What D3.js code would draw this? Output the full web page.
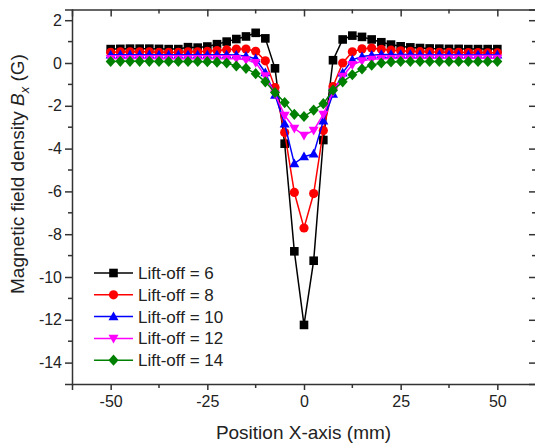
<meta charset="utf-8">
<style>
  body { margin: 0; background: #fff; }
  text { font-family: "Liberation Sans", Arial, sans-serif; fill: #222; }
  .axis path, .axis line { stroke: #333; stroke-width: 1.5px; }
</style>
<div id="chart"></div>
<script src="https://d3js.org/d3.v7.min.js"></script>
<script>
// positions along the scan (mm)
var positions = [-50, -47.5, -45, -42.5, -40, -37.5, -35, -32.5, -30, -27.5, -25, -22.5, -20, -17.5, -15, -12.5, -10, -7.5, -5, -2.5,
  0, 2.5, 5, 7.5, 10, 12.5, 15, 17.5, 20, 22.5, 25, 27.5, 30, 32.5, 35, 37.5, 40, 42.5, 45, 47.5, 50];

var lift6 = [0.65, 0.66, 0.67, 0.67, 0.67, 0.66, 0.65, 0.65, 0.74, 0.72, 0.77, 0.88, 1.0, 1.12, 1.24, 1.41, 1.15, -0.25, -3.77, -8.8,
  -12.24, -9.24, -3.6, 0.13, 1.1, 1.28, 1.22, 1.1, 0.97, 0.86, 0.78, 0.73, 0.7, 0.68, 0.67, 0.66, 0.66, 0.65, 0.65, 0.65, 0.65];
var lift8 = [0.5, 0.52, 0.52, 0.52, 0.52, 0.5, 0.5, 0.5, 0.52, 0.52, 0.55, 0.58, 0.62, 0.65, 0.65, 0.55, 0.1, -1.15, -3.25, -6.05,
  -7.71, -6.1, -3.15, -1.1, 0.0, 0.52, 0.66, 0.7, 0.64, 0.6, 0.57, 0.55, 0.53, 0.52, 0.5, 0.5, 0.5, 0.49, 0.49, 0.48, 0.48];
var lift10 = [0.38, 0.39, 0.39, 0.39, 0.39, 0.38, 0.38, 0.38, 0.38, 0.38, 0.38, 0.38, 0.38, 0.37, 0.32, 0.2, -0.45, -1.5, -2.85, -4.7,
  -4.38, -4.25, -2.7, -1.45, -0.46, 0.15, 0.3, 0.36, 0.4, 0.4, 0.4, 0.4, 0.39, 0.39, 0.39, 0.38, 0.38, 0.38, 0.38, 0.38, 0.38];
var lift12 = [0.2, 0.21, 0.21, 0.21, 0.21, 0.2, 0.2, 0.2, 0.2, 0.2, 0.2, 0.2, 0.2, 0.2, 0.15, 0.02, -0.6, -1.45, -2.45, -3.05,
  -3.38, -3.15, -2.4, -1.35, -0.62, -0.08, 0.1, 0.17, 0.2, 0.21, 0.22, 0.22, 0.22, 0.22, 0.22, 0.22, 0.22, 0.22, 0.22, 0.22, 0.22];
var lift14 = [0.07, 0.08, 0.08, 0.08, 0.08, 0.07, 0.07, 0.07, 0.07, 0.07, 0.06, 0.04, 0.0, -0.14, -0.25, -0.5, -0.88, -1.38, -1.85, -2.4,
  -2.5, -2.2, -1.9, -1.27, -0.88, -0.55, -0.28, -0.1, 0.0, 0.05, 0.07, 0.07, 0.07, 0.07, 0.07, 0.07, 0.07, 0.07, 0.07, 0.07, 0.07];

var labels = ["Lift-off = 6", "Lift-off = 8", "Lift-off = 10", "Lift-off = 12", "Lift-off = 14"];
var colors = ["#000000", "#ff0000", "#0000ff", "#ff00ff", "#008000"];
var symbols = ["square", "circle", "up", "down", "diamond"];
var xTicks = [-50, -25, 0, 25, 50];
var yTicks = [-14, -12, -10, -8, -6, -4, -2, 0, 2];

var series = [lift6, lift8, lift10, lift12, lift14].map(function(vals, i) {
  return {
    name: labels[i], color: colors[i], symbol: symbols[i],
    points: vals.map(function(v, j) { return {x: positions[j], y: v}; })
  };
});

var width = 535, height = 445;
var margin = {top: 9.5, right: -1, bottom: 61, left: 72};

var svg = d3.select("#chart").append("svg")
    .attr("width", width)
    .attr("height", height);

var x = d3.scaleLinear().domain([-60, 60]).range([margin.left, width - margin.right]);
var y = d3.scaleLinear().domain([-15, 2.5]).range([height - margin.bottom, margin.top]);

var x0 = x.range()[0], x1 = x.range()[1], y0 = y.range()[0], y1 = y.range()[1];
var plain = function(d) { return String(d); };  // hyphen minus like the original

// minor ticks
var xMinor = [-37.5, -12.5, 12.5, 37.5];
var yMinor = [-13, -11, -9, -7, -5, -3, -1, 1];

var frame = svg.append("g").attr("class", "axis");

// bottom axis (ticks outward)
frame.append("g")
    .attr("transform", "translate(0," + y0 + ")")
    .call(d3.axisBottom(x).tickValues(xTicks).tickSize(6).tickPadding(6).tickFormat(plain))
    .call(function(g) {
      g.selectAll("text").style("font-size", "16px").attr("fill", "#222");
      g.selectAll(".minor").data(xMinor).enter().append("line")
        .attr("x1", x).attr("x2", x).attr("y1", 0).attr("y2", 4)
        .attr("stroke", "#333").attr("stroke-width", 1.5);
    });

// left axis (ticks outward)
frame.append("g")
    .attr("transform", "translate(" + x0 + ",0)")
    .call(d3.axisLeft(y).tickValues(yTicks).tickSize(7).tickPadding(3).tickFormat(plain))
    .call(function(g) {
      g.selectAll("text").style("font-size", "16px").attr("fill", "#222");
      g.selectAll(".minor").data(yMinor).enter().append("line")
        .attr("y1", y).attr("y2", y).attr("x1", 0).attr("x2", -4)
        .attr("stroke", "#333").attr("stroke-width", 1.5);
    });

// top axis (ticks inward)
frame.append("g")
    .attr("transform", "translate(0," + y1 + ")")
    .call(d3.axisBottom(x).tickValues(xTicks).tickSize(7).tickFormat(""))
    .call(function(g) {
      g.selectAll(".minor").data(xMinor).enter().append("line")
        .attr("x1", x).attr("x2", x).attr("y1", 0).attr("y2", 4)
        .attr("stroke", "#333").attr("stroke-width", 1.5);
    });

// right axis (ticks inward)
frame.append("g")
    .attr("transform", "translate(" + x1 + ",0)")
    .call(d3.axisLeft(y).tickValues(yTicks).tickSize(7).tickFormat(""))
    .call(function(g) {
      g.selectAll(".minor").data(yMinor).enter().append("line")
        .attr("y1", y).attr("y2", y).attr("x1", 0).attr("x2", -4)
        .attr("stroke", "#333").attr("stroke-width", 1.5);
    });

// symbol shapes
function marker(sel, sym, color) {
  var s = 4.3;
  if (sym === "square") {
    sel.append("rect").attr("x", -s).attr("y", -s).attr("width", 2 * s).attr("height", 2 * s).attr("fill", color);
  } else if (sym === "circle") {
    sel.append("circle").attr("r", 4.6).attr("fill", color);
  } else if (sym === "up") {
    sel.append("path").attr("d", "M0,-5.2L5,3.6L-5,3.6Z").attr("fill", color);
  } else if (sym === "down") {
    sel.append("path").attr("d", "M0,5.2L5,-3.6L-5,-3.6Z").attr("fill", color);
  } else {
    sel.append("path").attr("d", "M0,-5.6L5,0L0,5.6L-5,0Z").attr("fill", color);
  }
}

var line = d3.line().x(function(d) { return x(d.x); }).y(function(d) { return y(d.y); });

var plot = svg.append("g");
series.forEach(function(s) {
  var g = plot.append("g");
  g.append("path")
    .datum(s.points)
    .attr("d", line)
    .attr("fill", "none")
    .attr("stroke", s.color)
    .attr("stroke-width", 1.5);
  g.selectAll("g.pt").data(s.points).enter().append("g")
    .attr("class", "pt")
    .attr("transform", function(d) { return "translate(" + x(d.x) + "," + y(d.y) + ")"; })
    .each(function() { marker(d3.select(this), s.symbol, s.color); });
});

// legend
var legend = svg.append("g").attr("transform", "translate(94,273)");
series.forEach(function(s, i) {
  var row = legend.append("g").attr("transform", "translate(0," + (i * 21.8) + ")");
  row.append("line").attr("x1", 0).attr("x2", 39).attr("y1", 0).attr("y2", 0)
    .attr("stroke", s.color).attr("stroke-width", 1.5);
  var m = row.append("g").attr("transform", "translate(19.5,0)");
  marker(m, s.symbol, s.color);
  row.append("text").attr("x", 44).attr("y", 6).style("font-size", "17px").text(s.name);
});

// axis titles
svg.append("text")
    .attr("x", (x0 + 535) / 2)
    .attr("y", 439)
    .attr("text-anchor", "middle")
    .style("font-size", "19px")
    .text("Position X-axis (mm)");

var yl = svg.append("text")
    .attr("transform", "translate(24,174) rotate(-90)")
    .attr("text-anchor", "middle")
    .style("font-size", "19px");
yl.append("tspan").text("Magnetic field density ");
yl.append("tspan").style("font-style", "italic").text("B");
yl.append("tspan").style("font-style", "italic").style("font-size", "13px").attr("dy", 5).text("x");
yl.append("tspan").attr("dy", -5).text(" (G)");
</script>
